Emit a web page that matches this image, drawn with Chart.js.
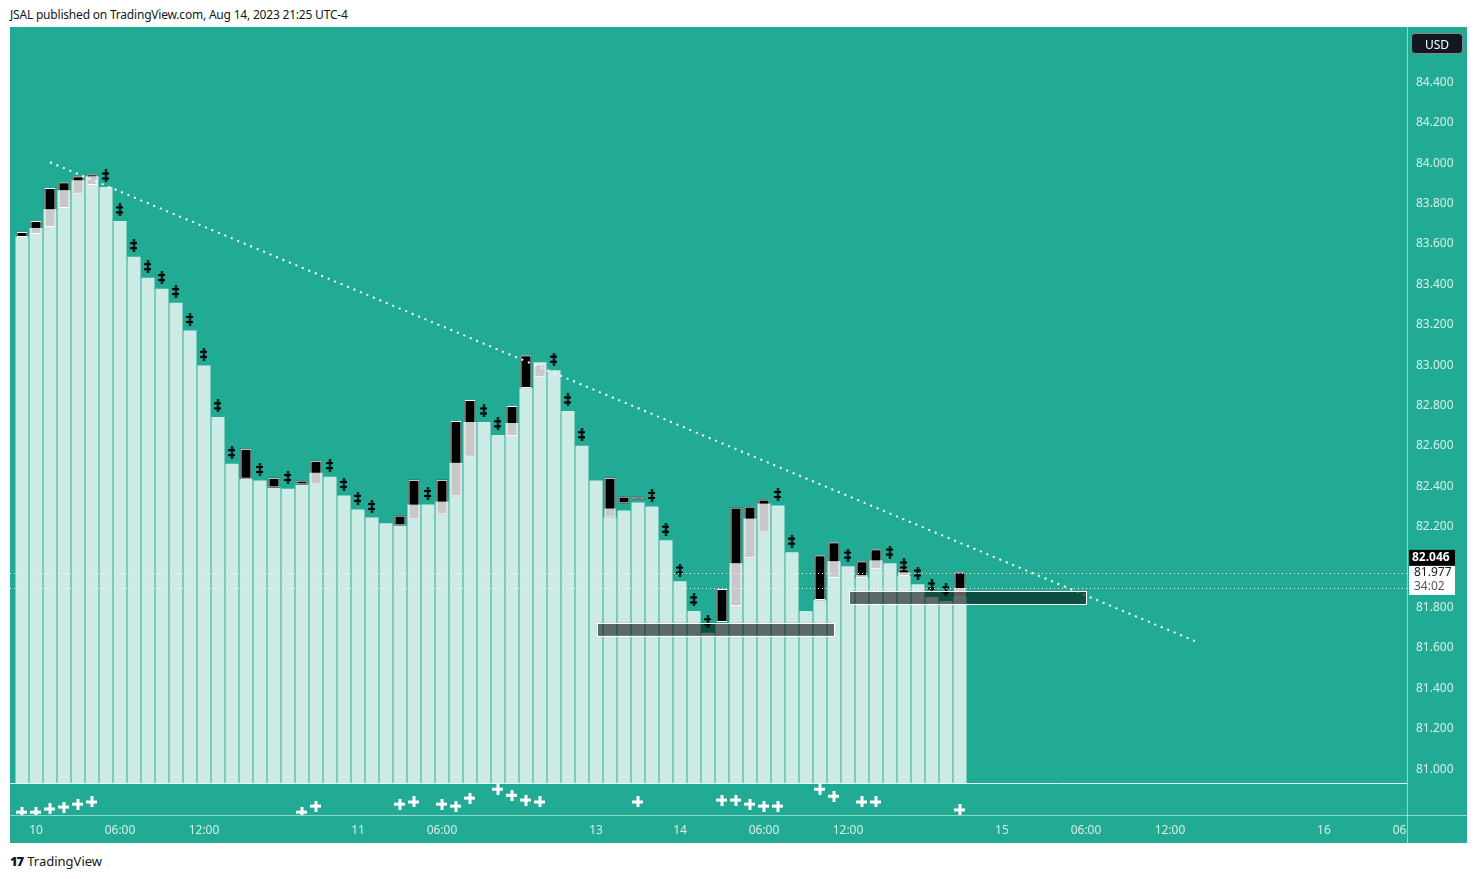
<!DOCTYPE html>
<html><head><meta charset="utf-8">
<script src="https://cdn.jsdelivr.net/npm/chart.js@4.4.0/dist/chart.umd.min.js"></script>
<style>
body{margin:0;background:#fff;font-family:"Noto Sans",Roboto,sans-serif;width:1477px;height:879px;position:relative;overflow:hidden}
#hdr{position:absolute;left:10px;top:6px;font-size:12px;color:#131722;letter-spacing:-0.2px}
#wrap{position:absolute;left:10px;top:27px;width:1457px;height:816px;background:#22ab94;overflow:hidden}
#ftr{position:absolute;left:10px;top:852px;font-size:13px;color:#131722}
#ftr b{font-weight:900;letter-spacing:-1px;margin-right:4px}
#usd{position:absolute;left:1411px;top:33px;width:52px;height:21px;background:#131722;color:#fff;border-radius:4px;font-size:12px;line-height:21px;text-align:center;border:1px solid #888;box-sizing:border-box}
</style></head><body>
<div id="hdr">JSAL published on TradingView.com, Aug 14, 2023 21:25 UTC-4</div>
<div id="wrap"><canvas id="c" width="1457" height="816"></canvas></div>
<div id="usd">USD</div>
<div id="ftr"><b>17</b>TradingView</div>
<script>
// bar index -1..67
const mintTop=[83.640,83.640,83.680,83.773,83.867,83.916,83.936,83.882,83.714,83.537,83.433,83.379,83.310,83.172,82.999,82.744,82.512,82.438,82.429,82.394,82.389,82.409,82.468,82.448,82.355,82.286,82.246,82.217,82.207,82.310,82.310,82.325,82.517,82.719,82.719,82.655,82.714,82.887,83.015,82.975,82.773,82.601,82.429,82.246,82.281,82.320,82.300,82.133,81.931,81.783,81.675,81.724,82.020,82.241,82.315,82.305,82.074,81.783,81.837,82.030,82.005,81.946,82.034,82.020,81.956,81.916,81.852,81.833,81.852];
const baseValue=80.931;
const candleK=  [0,1,2,3,4,5,16,18,20,21,27,28,30,31,32,35,36,37,42,43,44,50,51,52,53,57,58,60,61,63,67];
const candleHi= [83.660,83.714,83.877,83.906,83.936,83.946,82.586,82.443,82.429,82.527,82.256,82.433,82.433,82.724,82.828,82.798,83.049,83.005,82.443,82.350,82.350,81.892,82.296,82.300,82.335,82.059,82.123,82.030,82.089,81.990,81.975];
const candleMid=[83.635,83.680,83.773,83.867,83.916,83.936,82.438,82.394,82.409,82.468,82.207,82.310,82.325,82.517,82.719,82.714,82.887,83.005,82.291,82.315,82.335,81.729,82.020,82.241,82.315,81.837,82.030,81.961,82.034,81.975,81.897];
const candleLo= [83.635,83.650,83.685,83.778,83.847,83.892,82.438,82.394,82.409,82.409,82.207,82.236,82.261,82.350,82.547,82.650,82.887,82.941,82.246,82.315,82.335,81.729,81.808,82.044,82.172,81.837,81.946,81.946,81.990,81.956,81.852];
const crossK=[6,7,8,9,10,11,12,13,14,15,17,19,22,23,24,25,29,33,34,38,39,40,45,46,47,48,49,54,55,59,62,63,64,65,66];
const plusK=[0,1,2,3,4,5,20,21,27,28,30,31,32,34,35,36,37,44,50,51,52,53,54,57,58,60,61,67];
const plusLevel=[9,9,19,25,34,41,9,28,34,41,34,28,53,81,62,47,41,41,47,47,34,28,28,81,59,41,41,16];
const trendK=[2,83.93], trendV=[84.005,81.630];
const box1={k0:41.07,k1:58,v0:81.724,v1:81.660};
const box2={k0:59.07,k1:76,v0:81.882,v1:81.818};
const priceLines=[81.970,81.897];
const yTicks=[81.0,81.2,81.4,81.6,81.8,82.0,82.2,82.4,82.6,82.8,83.0,83.2,83.4,83.6,83.8,84.0,84.2,84.4];
const xTickPos=[1,7,13,24,30,41,47,53,59,70,76,82,93,98.4];
const xTickLabels=["10","06:00","12:00","11","06:00","13","14","06:00","12:00","15","06:00","12:00","16","06"];

function mk(w,h,f){const c=document.createElement('canvas');c.width=w;c.height=h;f(c.getContext('2d'));return c;}
const dcross=mk(7,13,g=>{g.fillStyle='#000';g.fillRect(2.5,0,2,13);g.fillRect(0,3,7,2);g.fillRect(0,8,7,2);});
const wplus=mk(11,11,g=>{g.fillStyle='#fff';g.fillRect(4,0,3,11);g.fillRect(0,4,11,3);});

const mint=mintTop.map((v,i)=>({x:i-1,y:[baseValue,v]}));
const gray=[],black=[],outline=[];
candleK.forEach((k,i)=>{
  if(candleMid[i]>candleLo[i]) gray.push({x:k,y:[candleLo[i],candleMid[i]]});
  if(candleHi[i]>candleMid[i]) black.push({x:k,y:[candleMid[i],candleHi[i]]});
  outline.push({x:k,y:[candleLo[i],candleHi[i]]});
});
const crosses=crossK.map(k=>({x:k,y:mintTop[k+1]+0.055}));
const pluses=plusK.map((k,i)=>({x:k,y:plusLevel[i]}));

const overlay={id:'ov',
 beforeDatasetsDraw(ch){const {ctx,chartArea:a}=ch;ctx.save();
   ctx.strokeStyle='rgba(255,255,255,0.9)';ctx.lineWidth=1;
   const ys=ch.scales.y;const yb=Math.round(ys.getPixelForValue(baseValue))+0.5;
   ctx.beginPath();ctx.moveTo(0,yb);ctx.lineTo(a.right,yb);ctx.stroke();
   ctx.strokeStyle='rgba(255,255,255,0.5)';
   ctx.beginPath();ctx.moveTo(a.right+0.5,0);ctx.lineTo(a.right+0.5,ch.height);ctx.stroke();
   ctx.beginPath();ctx.moveTo(0,a.bottom+0.5);ctx.lineTo(ch.width,a.bottom+0.5);ctx.stroke();
   ctx.restore();},
 afterDatasetsDraw(ch){const {ctx,chartArea:a}=ch;const xs=ch.scales.x,ys=ch.scales.y;ctx.save();
   [box1,box2].forEach(b=>{const x0=xs.getPixelForValue(b.k0),x1=xs.getPixelForValue(b.k1),y0=ys.getPixelForValue(b.v0),y1=ys.getPixelForValue(b.v1);
     ctx.fillStyle='rgba(0,0,0,0.55)';ctx.fillRect(x0,y0,x1-x0,y1-y0);ctx.strokeStyle='#fff';ctx.lineWidth=1;ctx.strokeRect(Math.round(x0)+0.5,Math.round(y0)+0.5,Math.round(x1-x0),Math.round(y1-y0));});
   ctx.strokeStyle='#fff';ctx.setLineDash([1,3]);
   priceLines.forEach(v=>{const y=Math.round(ys.getPixelForValue(v))+0.5;ctx.beginPath();ctx.moveTo(0,y);ctx.lineTo(a.right,y);ctx.stroke();});
   ctx.setLineDash([]);
   const y1=ys.getPixelForValue(82.046);
   ctx.fillStyle='#000';ctx.fillRect(a.right+2,y1-8,46,16);
   ctx.fillStyle='#fff';ctx.fillRect(a.right+2,y1+8,46,29);
   ctx.font='bold 12px "Noto Sans"';ctx.textBaseline='middle';ctx.fillStyle='#fff';ctx.fillText('82.046',a.right+5,y1);
   ctx.font='12px "Noto Sans"';ctx.fillStyle='#131722';ctx.fillText('81.977',a.right+7,y1+15);
   ctx.fillStyle='#555';ctx.fillText('34:02',a.right+7,y1+29);
   ctx.restore();}
};

new Chart(document.getElementById('c'),{
 data:{datasets:[
  {type:'line',data:trendK.map((k,i)=>({x:k,y:trendV[i]})),borderColor:'#fff',borderWidth:2,borderDash:[2,5],pointRadius:0,yAxisID:'y'},
  {type:'scatter',data:pluses,pointStyle:wplus,yAxisID:'yi'},
  {type:'scatter',data:crosses,pointStyle:dcross,yAxisID:'y'},
  {type:'bar',data:outline,backgroundColor:'rgba(0,0,0,0)',borderColor:'#fff',borderWidth:1,barPercentage:0.8,categoryPercentage:1,grouped:false,borderSkipped:false},
  {type:'bar',data:black,backgroundColor:'#000',barPercentage:0.8,categoryPercentage:1,grouped:false},
  {type:'bar',data:gray,backgroundColor:'#c8c8c8',barPercentage:0.8,categoryPercentage:1,grouped:false},
  {type:'bar',data:mint,backgroundColor:'#cdebe5',barPercentage:0.93,categoryPercentage:1,grouped:false}
 ]},
 options:{responsive:false,devicePixelRatio:1,animation:false,
  layout:{padding:{top:1,left:-5,right:0,bottom:0}},
  plugins:{legend:{display:false},tooltip:{enabled:false}},
  scales:{
   x:{type:'linear',offset:false,min:-0.5,max:98.93,grid:{display:false},border:{display:false},
      afterBuildTicks(s){s.ticks=xTickPos.map(v=>({value:v}));},
      afterFit(s){s.height=28;s.paddingLeft=0;s.paddingRight=0;},
      ticks:{autoSkip:false,maxRotation:0,color:'#d8efe9',font:{size:12,family:'Noto Sans'},padding:0,
        callback:(v,i)=>xTickLabels[i]}},
   y:{position:'right',min:80.773,max:84.650,grid:{display:false},border:{display:false},
      afterBuildTicks(s){s.ticks=yTicks.map(v=>({value:v}));},
      afterFit(s){s.width=60;s.paddingTop=0;s.paddingBottom=0;},
      ticks:{color:'#d8efe9',font:{size:12,family:'Noto Sans'},padding:1,callback:v=>v.toFixed(3)}},
   yi:{display:false,min:0,max:2459}
  }},
 plugins:[overlay]
});
</script></body></html>
